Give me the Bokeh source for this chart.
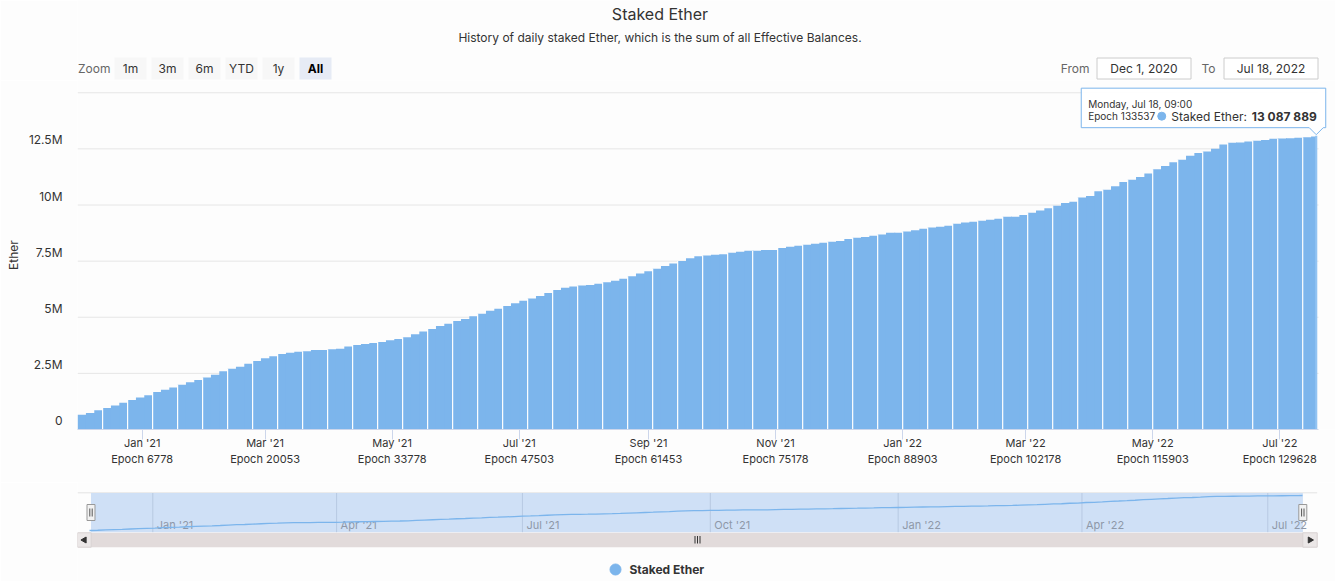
import numpy as np
import pandas as pd
from bokeh.plotting import figure
from bokeh.models import Range1d, FixedTicker
from bokeh.layouts import column
from bokeh.core.properties import value
from bokeh.embed import file_html
from bokeh.resources import INLINE

FONT = "Inter"
BG = "#fdfdfd"
BAR = "#7cb5ec"
TXT = "#333333"

# ---------------- data ----------------
title_text = "Staked Ether"
subtitle_text = "History of daily staked Ether, which is the sum of all Effective Balances."
series_name = "Staked Ether"
y_axis_title = "Ether"

start_date = "2020-12-01"
step_days = 4
# staked Ether (millions) every 4 days from Dec 1, 2020
staked_million = [
    0.66, 0.74, 0.86, 0.96, 1.07, 1.19, 1.31, 1.43, 1.53, 1.67,
    1.77, 1.87, 1.99, 2.10, 2.21, 2.32, 2.44, 2.59, 2.71, 2.79,
    2.93, 3.05, 3.17, 3.26, 3.36, 3.42, 3.46, 3.49, 3.54, 3.54,
    3.57, 3.60, 3.70, 3.76, 3.81, 3.85, 3.90, 3.97, 4.03, 4.11,
    4.24, 4.36, 4.48, 4.61, 4.71, 4.83, 4.92, 5.04, 5.16, 5.29,
    5.38, 5.50, 5.62, 5.74, 5.83, 5.95, 6.08, 6.21, 6.31, 6.37,
    6.41, 6.44, 6.49, 6.56, 6.63, 6.71, 6.83, 6.95, 7.05, 7.16,
    7.28, 7.39, 7.51, 7.63, 7.72, 7.75, 7.78, 7.81, 7.87, 7.92,
    7.96, 7.96, 8.00, 8.00, 8.09, 8.14, 8.18, 8.23, 8.27, 8.32,
    8.36, 8.40, 8.48, 8.54, 8.58, 8.63, 8.69, 8.76, 8.76, 8.82,
    8.88, 8.94, 9.00, 9.03, 9.08, 9.17, 9.22, 9.25, 9.30, 9.34,
    9.39, 9.48, 9.48, 9.55, 9.66, 9.76, 9.85, 9.97, 10.09, 10.15,
    10.33, 10.40, 10.61, 10.68, 10.83, 11.03, 11.13, 11.25, 11.40, 11.59,
    11.74, 11.90, 12.02, 12.19, 12.32, 12.38, 12.51, 12.69, 12.77, 12.78,
    12.83, 12.86, 12.90, 12.95, 12.96, 12.97, 13.00, 13.02, 13.05,
]
last_date = "2022-07-18"
last_value = 13087889
last_time_label = "Monday, Jul 18, 09:00"
last_epoch = 133537

x_tick_dates = ["2021-01-01", "2021-03-01", "2021-05-01", "2021-07-01", "2021-09-01",
                "2021-11-01", "2022-01-01", "2022-03-01", "2022-05-01", "2022-07-01"]
x_tick_months = ["Jan '21", "Mar '21", "May '21", "Jul '21", "Sep '21",
                 "Nov '21", "Jan '22", "Mar '22", "May '22", "Jul '22"]
x_tick_epochs = [6778, 20053, 33778, 47503, 61453, 75178, 88903, 102178, 115903, 129628]

y_ticks = [0, 2500000, 5000000, 7500000, 10000000, 12500000, 15000000]
y_tick_labels = ["0", "2.5M", "5M", "7.5M", "10M", "12.5M", ""]

nav_tick_dates = ["2021-01-01", "2021-04-01", "2021-07-01", "2021-10-01",
                  "2022-01-01", "2022-04-01", "2022-07-01"]
nav_tick_labels = ["Jan '21", "Apr '21", "Jul '21", "Oct '21", "Jan '22", "Apr '22", "Jul '22"]

zoom_buttons = ["1m", "3m", "6m", "YTD", "1y", "All"]
from_text = "Dec 1, 2020"
to_text = "Jul 18, 2022"

# ---------------- derived ----------------
t0 = pd.Timestamp(start_date)
def day_of(s):
    return float((pd.Timestamp(s) - t0).days)

last_day = day_of(last_date)
days = np.append(np.arange(len(staked_million)) * step_days, last_day).astype(float)
vals = np.append(np.array(staked_million) * 1e6, last_value)
lefts = days
rights_true = np.append(days[1:], last_day + 1)
rights = rights_true + np.append(np.full(len(days) - 1, 0.45), 0.0)  # overlap to hide seams
colors = [BAR] * (len(vals) - 1) + ["#92c3f2"]

W = 1335
TITLE_CX = 659.5
# main chart geometry (pixels)
MAIN_TOP = 80
MAIN_H = 402
BORDER_B = 53
FRAME_L = 77
X0_PX = 77.1
PX_PER_DAY = 2.0835
PX_PER_UNIT = 22.45e-6
FRAME_BOTTOM_ABS = MAIN_TOP + MAIN_H - BORDER_B

def dx(px):
    return (px - X0_PX) / PX_PER_DAY

def dy(py_abs):
    return (FRAME_BOTTOM_ABS - py_abs) / PX_PER_UNIT

x_start = dx(FRAME_L)
x_end = dx(W)
y_end = (MAIN_H - BORDER_B) / PX_PER_UNIT

def hide_axes(fig):
    fig.xgrid.visible = False
    fig.ygrid.visible = False
    fig.outline_line_color = None
    fig.background_fill_color = BG
    fig.border_fill_color = BG

# The column aligns all frames with the main chart's frame (x = 77 .. 1335),
# so the header and navigator use pixel-like ranges over that same span.

# ---------------- header ----------------
h = figure(width=W, height=MAIN_TOP, x_range=Range1d(FRAME_L, W), y_range=Range1d(MAIN_TOP, 0),
           output_backend="svg", toolbar_location=None, title=None,
           x_axis_location=None, y_axis_location=None,
           min_border_left=FRAME_L, min_border_right=0, min_border_top=0, min_border_bottom=0)
hide_axes(h)
h.text(x=[TITLE_CX], y=[13], text=[title_text], text_font=value(FONT), text_font_size="16px",
       text_color=TXT, text_align="center", text_baseline="middle")
h.text(x=[TITLE_CX], y=[37], text=[subtitle_text], text_font=value(FONT), text_font_size="12px",
       text_color=TXT, text_align="center", text_baseline="middle")
h.text(x=[77.5], y=[68], text=["Zoom"], text_font=value(FONT), text_font_size="12px",
       text_color="#666666", text_align="left", text_baseline="middle")
btn_left = [114 + 37 * i for i in range(len(zoom_buttons))]
btn_fill = ["#f7f7f7"] * (len(zoom_buttons) - 1) + ["#e6ebf5"]
h.quad(left=btn_left, right=[b + 32 for b in btn_left], top=57, bottom=79,
       fill_color=btn_fill, line_color=None)
h.text(x=[b + 16 for b in btn_left[:-1]], y=68, text=zoom_buttons[:-1], text_font=value(FONT),
       text_font_size="12px", text_color=TXT, text_align="center", text_baseline="middle")
h.text(x=[btn_left[-1] + 16], y=[68], text=[zoom_buttons[-1]], text_font=value(FONT),
       text_font_size="12px", text_font_style="bold", text_color="#000000",
       text_align="center", text_baseline="middle")
h.text(x=[1089, 1215], y=68, text=["From", "To"], text_font=value(FONT), text_font_size="12px",
       text_color="#666666", text_align="right", text_baseline="middle")
h.quad(left=[1096.5, 1223.5], right=[1190.5, 1317.5], top=57.5, bottom=78.5,
       fill_color="#ffffff", line_color="#cccccc", line_width=1)
h.text(x=[1143.5, 1270.5], y=68, text=[from_text, to_text], text_font=value(FONT),
       text_font_size="12px", text_color=TXT, text_align="center", text_baseline="middle")

# ---------------- main chart ----------------
p = figure(width=W, height=MAIN_H, x_range=Range1d(x_start, x_end), y_range=Range1d(0, y_end),
           output_backend="svg", toolbar_location=None, title=None,
           min_border_left=FRAME_L, min_border_right=0, min_border_top=0,
           min_border_bottom=BORDER_B)
hide_axes(p)

grid_right = dx(1318)
p.segment(x0=x_start, x1=grid_right, y0=y_ticks[1:], y1=y_ticks[1:],
          line_color="#e6e6e6", line_width=1)
p.quad(left=lefts, right=rights, bottom=0, top=vals, fill_color=colors, line_color=None)
sep_idx = np.arange(3, len(days) - 1, 3)
p.segment(x0=days[sep_idx], x1=days[sep_idx], y0=0,
          y1=np.maximum(vals[sep_idx], vals[sep_idx - 1]),
          line_color="#ffffff", line_width=1.2)

p.yaxis.ticker = FixedTicker(ticks=y_ticks)
# trailing blank line lifts each label above its grid line, as in the original
p.yaxis.major_label_overrides = {t: (l + "\n " if l else "") for t, l in zip(y_ticks, y_tick_labels)}
p.yaxis.axis_line_color = None
p.yaxis.major_tick_line_color = None
p.yaxis.minor_tick_line_color = None
p.yaxis.major_tick_out = 0
p.yaxis.major_tick_in = 0
p.yaxis.minor_tick_out = 0
p.yaxis.minor_tick_in = 0
p.yaxis.major_label_text_font = FONT
p.yaxis.major_label_text_font_size = "12px"
p.yaxis.major_label_text_color = TXT
p.yaxis.major_label_standoff = 15
p.yaxis.axis_label = y_axis_title
p.yaxis.axis_label_text_font = FONT
p.yaxis.axis_label_text_font_size = "12px"
p.yaxis.axis_label_text_font_style = "normal"
p.yaxis.axis_label_text_color = TXT
p.yaxis.axis_label_standoff = 5

x_tick_days = [int(day_of(d)) for d in x_tick_dates]
p.xaxis.ticker = FixedTicker(ticks=x_tick_days)
p.xaxis.major_label_overrides = {d: f"{m}\nEpoch {e}" for d, m, e in
                                 zip(x_tick_days, x_tick_months, x_tick_epochs)}
p.xaxis.bounds = (x_start, grid_right)
p.xaxis.axis_line_color = "#ccd6eb"
p.xaxis.major_tick_line_color = "#ccd6eb"
p.xaxis.major_tick_out = 10
p.xaxis.major_tick_in = 0
p.xaxis.minor_tick_line_color = None
p.xaxis.minor_tick_out = 0
p.xaxis.minor_tick_in = 0
p.xaxis.major_label_text_font = FONT
p.xaxis.major_label_text_font_size = "11px"
p.xaxis.major_label_text_color = TXT
p.xaxis.major_label_standoff = -4

# tooltip anchored at the last point
tip_px = X0_PX + PX_PER_DAY * (last_day + 0.5)
tip_py = FRAME_BOTTOM_ABS - last_value * PX_PER_UNIT
bx = [-235, 9.5, 9.5, 7, 0, -7, -235]
by = [-47.5, -47.5, -8, -8, -1, -8, -8]
p.patch(x=[dx(tip_px + a) for a in bx], y=[dy(tip_py + b) for b in by],
        fill_color="#ffffff", fill_alpha=0.92, line_color=BAR, line_width=1)
p.text(x=[dx(tip_px - 228)] * 2, y=[dy(tip_py - 32), dy(tip_py - 19.5)],
       text=[last_time_label, f"Epoch {last_epoch}"], text_font=value(FONT),
       text_font_size="10px", text_color=TXT, text_align="left", text_baseline="middle")
p.scatter(x=[dx(tip_px - 154.5)], y=[dy(tip_py - 19.5)], size=8, color=BAR)
p.text(x=[dx(tip_px - 145)], y=[dy(tip_py - 19.5)], text=[f"{series_name}: "],
       text_font=value(FONT), text_font_size="12px", text_color=TXT,
       text_align="left", text_baseline="middle")
p.text(x=[dx(tip_px + 0.5)], y=[dy(tip_py - 19.5)],
       text=[f"{last_value:,}".replace(",", " ")], text_font=value(FONT),
       text_font_size="12px", text_font_style="bold", text_color=TXT,
       text_align="right", text_baseline="middle")

# ---------------- navigator ----------------
NAV_TOP = MAIN_TOP + MAIN_H
NAV_H = 581 - NAV_TOP
n = figure(width=W, height=NAV_H, x_range=Range1d(FRAME_L, W), y_range=Range1d(NAV_H, 0),
           output_backend="svg", toolbar_location=None, title=None,
           x_axis_location=None, y_axis_location=None,
           min_border_left=FRAME_L, min_border_right=0, min_border_top=0, min_border_bottom=0)
hide_axes(n)
NAV_X0 = 89.0
NAV_PPD = 2.0421
n.extra_x_ranges = {"nav": Range1d((FRAME_L - NAV_X0) / NAV_PPD, (W - NAV_X0) / NAV_PPD)}
NAV_PPU = 2.816e-6
ref_local = 13.0
n.extra_y_ranges = {"nav": Range1d(last_value - (NAV_H - ref_local) / NAV_PPU,
                                   last_value + ref_local / NAV_PPU)}

def nl(py_abs):
    return py_abs - NAV_TOP

n.segment(x0=[77], x1=[1316.7], y0=[nl(492.3)], y1=[nl(492.3)], line_color="#e3e3e3")
n.quad(left=[NAV_X0 + 1.5], right=[NAV_X0 + NAV_PPD * (last_day + 0.2)],
       top=[nl(492.5)], bottom=[nl(531.7)], fill_color="#cfe0f6", line_color=None)
nav_days = [day_of(d) for d in nav_tick_dates]
n.segment(x0=nav_days, x1=nav_days, y0=nl(492.5), y1=nl(531.7), line_color="#b7c9e2",
          x_range_name="nav")
n.text(x=nav_days, y=nl(524), text=nav_tick_labels, x_offset=4, text_font=value(FONT),
       text_font_size="11px", text_color="#8e98a8", text_align="left",
       text_baseline="middle", x_range_name="nav")
n.line(x=days, y=vals, line_color=BAR, line_width=1.3, x_range_name="nav", y_range_name="nav")

# scrollbar
n.quad(left=[77], right=[1316.7], top=[nl(532.3)], bottom=[nl(546.7)],
       fill_color="#e2dbdb", line_color=None)
n.quad(left=[77, 1302.3], right=[90.7, 1316.7], top=nl(532.3), bottom=nl(546.7),
       fill_color="#ebe7e7", line_color="#d9d3d3")
n.scatter(x=[83.9, 1309.5], y=nl(539.5), marker="triangle", size=6,
          angle=[np.pi / 2, -np.pi / 2], color="#333333")
n.segment(x0=[694.5, 697.0, 699.5], x1=[694.5, 697.0, 699.5], y0=nl(535.5), y1=nl(543),
          line_color="#333333", line_width=1)
# handles
hx = [90.5, 1302.3]
n.quad(left=[x - 4 for x in hx], right=[x + 4 for x in hx], top=nl(504), bottom=nl(520),
       fill_color="#f2f2f2", line_color="#999999")
for off in (-1.2, 1.2):
    n.segment(x0=[x + off for x in hx], x1=[x + off for x in hx], y0=nl(508), y1=nl(516),
              line_color="#555555", line_width=1)

# legend
n.scatter(x=[615], y=[nl(569)], size=11, color=BAR)
n.text(x=[629], y=[nl(569)], text=[series_name], text_font=value(FONT), text_font_size="12px",
       text_font_style="bold", text_color=TXT, text_align="left", text_baseline="middle")

layout = column(h, p, n, spacing=0)
open("out.html", "w").write(file_html(layout, INLINE))
